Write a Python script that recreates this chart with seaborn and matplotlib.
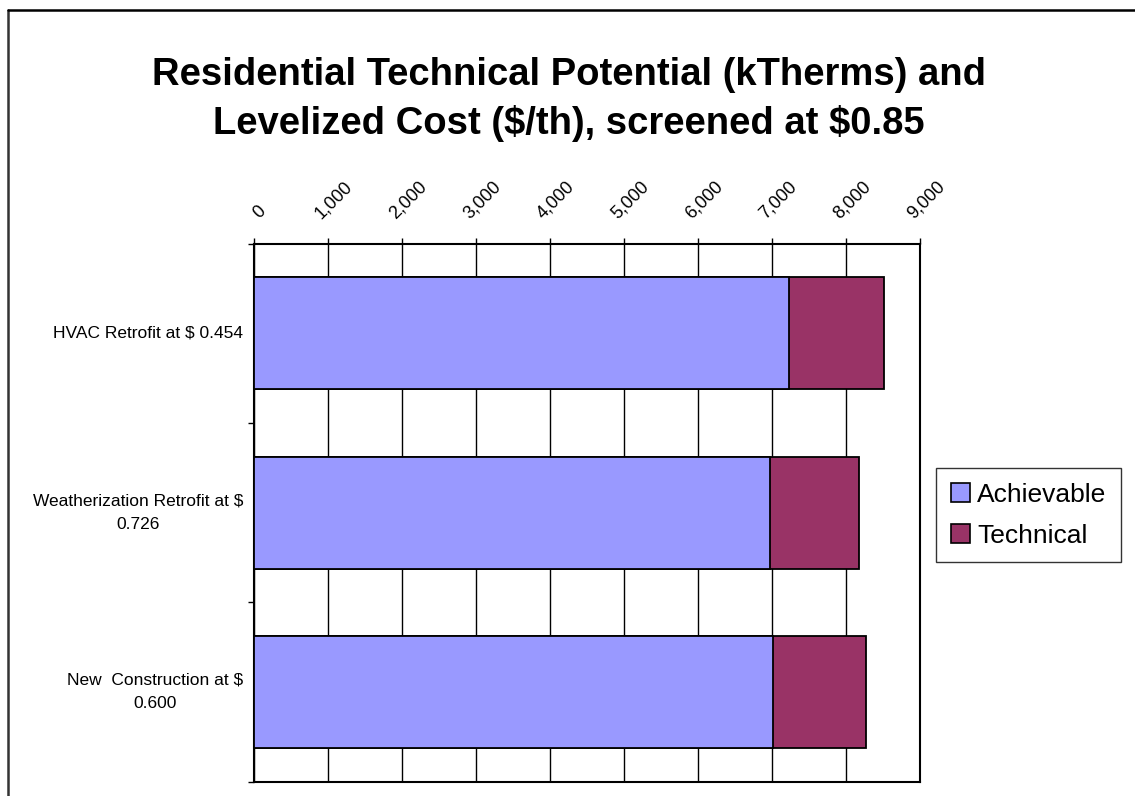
import matplotlib
matplotlib.use("Agg")
import matplotlib.pyplot as plt
import matplotlib.transforms as mtransforms
import seaborn as sns
import pandas as pd
from matplotlib.lines import Line2D
from matplotlib.patches import Patch
from matplotlib.ticker import FuncFormatter, FixedLocator

# Residential measures, potential in kTherms
measures = [
    "HVAC Retrofit at $ 0.454",
    "Weatherization Retrofit at $\n0.726",
    "New  Construction at $\n0.600",
]
achievable = [7230, 6970, 7010]
technical_extra = [1280, 1210, 1260]   # technical potential beyond achievable
x_ticks = [0, 1000, 2000, 3000, 4000, 5000, 6000, 7000, 8000, 9000]

achievable_color = "#9999FF"
technical_color = "#993366"

df = pd.DataFrame({
    "measure": measures,
    "Achievable": achievable,
    "Technical": technical_extra,
})
df["total"] = df["Achievable"] + df["Technical"]

sns.set_theme(style="white")
plt.rcParams["font.family"] = ["Liberation Sans", "DejaVu Sans"]
plt.rcParams["text.parse_math"] = False
plt.rcParams["text.color"] = "black"

W, H = 1135, 796
fig = plt.figure(figsize=(W / 100, H / 100), dpi=100)
ax = fig.add_axes([254 / W, 1 - 781.7 / H, (920 - 254) / W, (781.7 - 243.7) / H])

# stacked bars: full technical length underneath, achievable drawn over it
sns.barplot(data=df, y="measure", x="total", color=technical_color, orient="h",
            width=0.625, saturation=1, edgecolor="black", linewidth=1.3,
            ax=ax, zorder=3)
sns.barplot(data=df, y="measure", x="Achievable", color=achievable_color, orient="h",
            width=0.625, saturation=1, edgecolor="black", linewidth=1.3,
            ax=ax, zorder=4)

ax.set_xlim(0, 9000)
ax.set_ylim(2.5, -0.5)
ax.set_xlabel("")
ax.set_ylabel("")

# x axis on top with rotated thousands labels
ax.xaxis.tick_top()
ax.set_xticks(x_ticks)
ax.xaxis.set_major_formatter(FuncFormatter(lambda v, _: f"{int(v):,}"))
ax.tick_params(axis="x", which="major", top=True, bottom=False, labeltop=True,
               labelbottom=False, direction="out", length=4.5, width=1.0,
               color="black", pad=11, labelsize=13, labelrotation=45,
               labelcolor="black")
shift = mtransforms.ScaledTranslation(6 / 100, 0, fig.dpi_scale_trans)
for lbl in ax.get_xticklabels():
    lbl.set_ha("center")
    lbl.set_va("bottom")
    lbl.set_transform(lbl.get_transform() + shift)

# category labels, with tick marks at the band boundaries
ax.tick_params(axis="y", which="major", left=False, length=0, pad=8,
               labelsize=12.5, labelcolor="black")
for lbl in ax.get_yticklabels():
    lbl.set_multialignment("center")
    lbl.set_linespacing(1.7)
    lbl.set_va("center")
ax.yaxis.set_minor_locator(FixedLocator([-0.5, 0.5, 1.5, 2.5]))
ax.tick_params(axis="y", which="minor", left=True, direction="out",
               length=4, width=1.0, color="black")

ax.grid(axis="x", color="black", linewidth=1.0, zorder=0)
ax.grid(axis="y", visible=False)
ax.set_axisbelow(True)
for s in ax.spines.values():
    s.set_visible(True)
    s.set_color("black")
    s.set_linewidth(1.5)

# legend at the right
handles = [
    Patch(facecolor=achievable_color, edgecolor="black", linewidth=1.2, label="Achievable"),
    Patch(facecolor=technical_color, edgecolor="black", linewidth=1.2, label="Technical"),
]
leg = fig.legend(handles=handles, loc="upper left",
                 bbox_to_anchor=(936 / W, 1 - 468 / H), fontsize=19,
                 frameon=True, fancybox=False, handlelength=0.75, handleheight=0.75,
                 handletextpad=0.25, borderpad=0.55, labelspacing=0.65,
                 borderaxespad=0, labelcolor="black")
leg.get_frame().set_edgecolor("black")
leg.get_frame().set_linewidth(1.0)

# title
fig.text(0.501, 1 - 75 / H, "Residential Technical Potential (kTherms) and",
         ha="center", va="center", fontsize=27.5, fontweight="bold", color="black")
fig.text(0.501, 1 - 123 / H, "Levelized Cost ($/th), screened at $0.85",
         ha="center", va="center", fontsize=27.5, fontweight="bold", color="black")

# outer chart frame (left and top edges)
fig.add_artist(Line2D([8 / W, 8 / W], [0, 1 - 10 / H], transform=fig.transFigure,
                      color="#333333", linewidth=1.8))
fig.add_artist(Line2D([8 / W, 1], [1 - 10 / H, 1 - 10 / H], transform=fig.transFigure,
                      color="black", linewidth=1.8))

fig.savefig("out.png", dpi=100, facecolor="white")
